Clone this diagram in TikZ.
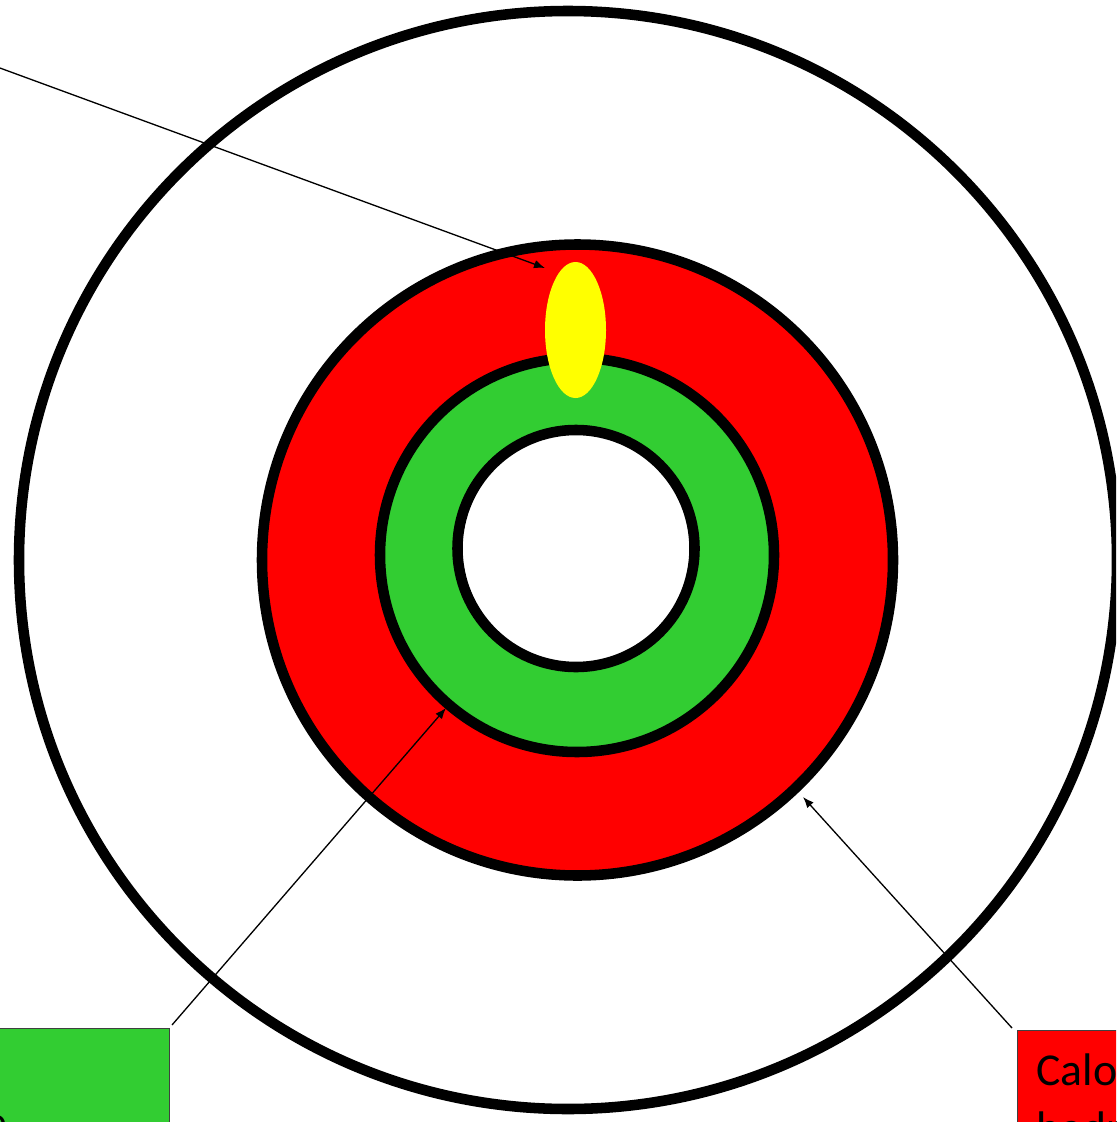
\documentclass[tikz,border=0pt]{standalone}
\usepackage{fontspec}
\setmainfont{Carlito}
\usepackage{tikz}
\usetikzlibrary{arrows.meta}
\definecolor{hadred}{RGB}{255,0,0}
\definecolor{emgreen}{RGB}{50,205,50}
\definecolor{pixyellow}{RGB}{255,255,0}
\tikzset{
  ring/.style={draw=black,line width=6pt},
  pointer/.style={-{Latex[length=2.2mm,width=1.7mm]},line width=0.75pt},
  labelbox/.style={draw=black!75,line width=0.6pt,align=left,inner xsep=0.38cm,
    inner ysep=0.46cm,font=\fontsize{26}{33}\selectfont,anchor=north west},
  labeltext/.style={font=\fontsize{26}{33}\selectfont,inner sep=0pt}
}

\begin{document}
\begin{tikzpicture}[x=0.02cm,y=-0.02cm]
  \useasboundingbox (0,0) rectangle (1116,1122);
  \clip (0,0) rectangle (1116,1122);
  \fill[white] (0,0) rectangle (1116,1122);

  % detector layers
  \draw[ring,fill=white] (568,560) circle [radius=549];
  \draw[ring,fill=hadred] (577.5,560) circle [radius=315.5];
  \draw[ring,fill=emgreen] (577,555) circle [radius=197];
  \draw[ring,fill=white] (576,548.5) circle [radius=118.5];
  \fill[pixyellow] (575.5,330) ellipse [x radius=30.5,y radius=68];

  % pointer targets
  \coordinate (trkfree) at (-20,60.7);
  \coordinate (pixtip) at (545,268);
  \coordinate (emtip) at (446,708);
  \coordinate (hadtip) at (803,797);

  \node[labelbox,fill=emgreen,minimum width=8cm,minimum height=3cm,anchor=north east]
    (embox) at (170,1028) {};
  \node[labeltext,anchor=base east] (emtext) at (7.5,1137) {électromagnétique};
  \node[labelbox,fill=hadred] (hadbox) at (1017,1030) {Calorimètre\\hadronique};

  \draw[pointer] (trkfree) -- (pixtip);
  \draw[pointer] (embox.north east) ++(2,-3) -- (emtip);
  \draw[pointer] (hadbox.north west) ++(-5,-2) -- (hadtip);
\end{tikzpicture}
\end{document}
